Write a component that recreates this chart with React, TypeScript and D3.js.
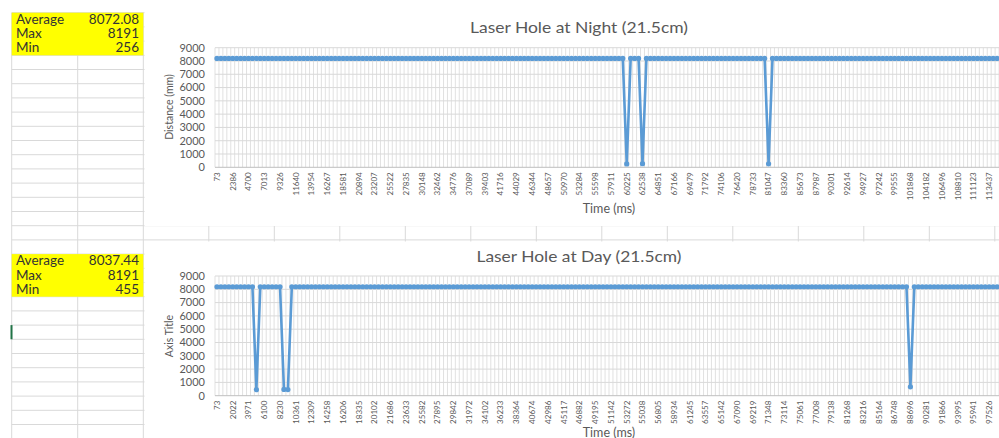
import React from "react";
import * as d3 from "d3";

// ---------- DATA ----------
const nightValues: number[] = [
  8191, 8191, 8191, 8191, 8191, 8191, 8191, 8191, 8191, 8191, 8191, 8191, 8191, 8191, 8191, 8191, 8191, 8191, 8191, 8191,
  8191, 8191, 8191, 8191, 8191, 8191, 8191, 8191, 8191, 8191, 8191, 8191, 8191, 8191, 8191, 8191, 8191, 8191, 8191, 8191,
  8191, 8191, 8191, 8191, 8191, 8191, 8191, 8191, 8191, 8191, 8191, 8191, 8191, 8191, 8191, 8191, 8191, 8191, 8191, 8191,
  8191, 8191, 8191, 8191, 8191, 8191, 8191, 8191, 8191, 8191, 8191, 8191, 8191, 8191, 8191, 8191, 8191, 8191, 8191, 8191,
  8191, 8191, 8191, 8191, 8191, 8191, 8191, 8191, 8191, 8191, 8191, 8191, 8191, 8191, 8191, 8191, 8191, 8191, 8191, 8191,
  8191, 8191, 8191, 8191, 256, 8191, 8191, 8191, 270, 8191, 8191, 8191, 8191, 8191, 8191, 8191, 8191, 8191, 8191, 8191,
  8191, 8191, 8191, 8191, 8191, 8191, 8191, 8191, 8191, 8191, 8191, 8191, 8191, 8191, 8191, 8191, 8191, 8191, 8191, 8191,
  263, 8191, 8191, 8191, 8191, 8191, 8191, 8191, 8191, 8191, 8191, 8191, 8191, 8191, 8191, 8191, 8191, 8191, 8191, 8191,
  8191, 8191, 8191, 8191, 8191, 8191, 8191, 8191, 8191, 8191, 8191, 8191, 8191, 8191, 8191, 8191, 8191, 8191, 8191, 8191,
  8191, 8191, 8191, 8191, 8191, 8191, 8191, 8191, 8191, 8191, 8191, 8191, 8191, 8191, 8191, 8191, 8191, 8191, 8191, 8191,
];

const dayValues: number[] = [
  8191, 8191, 8191, 8191, 8191, 8191, 8191, 8191, 8191, 8191, 455, 8191, 8191, 8191, 8191, 8191, 8191, 470, 460, 8191,
  8191, 8191, 8191, 8191, 8191, 8191, 8191, 8191, 8191, 8191, 8191, 8191, 8191, 8191, 8191, 8191, 8191, 8191, 8191, 8191,
  8191, 8191, 8191, 8191, 8191, 8191, 8191, 8191, 8191, 8191, 8191, 8191, 8191, 8191, 8191, 8191, 8191, 8191, 8191, 8191,
  8191, 8191, 8191, 8191, 8191, 8191, 8191, 8191, 8191, 8191, 8191, 8191, 8191, 8191, 8191, 8191, 8191, 8191, 8191, 8191,
  8191, 8191, 8191, 8191, 8191, 8191, 8191, 8191, 8191, 8191, 8191, 8191, 8191, 8191, 8191, 8191, 8191, 8191, 8191, 8191,
  8191, 8191, 8191, 8191, 8191, 8191, 8191, 8191, 8191, 8191, 8191, 8191, 8191, 8191, 8191, 8191, 8191, 8191, 8191, 8191,
  8191, 8191, 8191, 8191, 8191, 8191, 8191, 8191, 8191, 8191, 8191, 8191, 8191, 8191, 8191, 8191, 8191, 8191, 8191, 8191,
  8191, 8191, 8191, 8191, 8191, 8191, 8191, 8191, 8191, 8191, 8191, 8191, 8191, 8191, 8191, 8191, 8191, 8191, 8191, 8191,
  8191, 8191, 8191, 8191, 8191, 8191, 8191, 8191, 8191, 8191, 8191, 8191, 8191, 8191, 8191, 8191, 667, 8191, 8191, 8191,
  8191, 8191, 8191, 8191, 8191, 8191, 8191, 8191, 8191, 8191, 8191, 8191, 8191, 8191, 8191, 8191, 8191, 8191, 8191, 8191,
];

const nightTickLabels: string[] = [
  "73", "2386", "4700", "7013", "9326", "11640", "13954", "16267", "18581", "20894",
  "23207", "25522", "27835", "30148", "32462", "34776", "37089", "39403", "41716", "44029",
  "46344", "48657", "50970", "53284", "55598", "57911", "60225", "62538", "64851", "67166",
  "69479", "71792", "74106", "76420", "78733", "81047", "83360", "85673", "87987", "90301",
  "92614", "94927", "97242", "99555", "101868", "104182", "106496", "108810", "111123", "113437",
];

const dayTickLabels: string[] = [
  "73", "2022", "3971", "6100", "8230", "10361", "12309", "14258", "16206", "18335",
  "20102", "21686", "23633", "25582", "27895", "29842", "31972", "34102", "36233", "38364",
  "40674", "42986", "45117", "46882", "49195", "51142", "53272", "55038", "56805", "58934",
  "61245", "63557", "65142", "67090", "69219", "71348", "73114", "75061", "77008", "79138",
  "81268", "83216", "85164", "86748", "88696", "90281", "91866", "93995", "95941", "97526",
];

const yTicks: number[] = [0, 1000, 2000, 3000, 4000, 5000, 6000, 7000, 8000, 9000];

const statLabels: string[] = ["Average", "Max", "Min"];
const nightStats: string[] = ["8072.08", "8191", "256"];
const dayStats: string[] = ["8037.44", "8191", "455"];

// ---------- STYLE ----------
const W = 999;
const H = 438;
const FONT = "Lato, 'Open Sans', sans-serif";
const TXT = "#595959";
const BLUE = "#5B9BD5";
const CELL = "#D9D9D9";
const ROW_H = 14.2;
const ROW0 = 12.7;
const COLS = [11.7, 77.7];
const COL_START = 143.3;
const COL_W = 65.5;

type ChartProps = {
  title: string;
  titleW: number;
  yTitle: string;
  values: number[];
  labels: string[];
  top: number;
  bottom: number;
  titleY: number;
  xTitleY: number;
  yTitleY: number;
};

function Chart({ title, titleW, yTitle, values, labels, top, bottom, titleY, xTitleY, yTitleY }: ChartProps) {
  const left = 215;
  const right = 1003;
  const idx = values.map((_, i) => i);
  const x = d3.scaleBand<number>().domain(idx).range([left, right]).padding(0);
  const bw = x.bandwidth();
  const y = d3.scaleLinear().domain([0, 9000]).range([bottom, top]);
  const cx = (i: number) => (x(i) as number) + bw / 2;
  const line = d3
    .line<number>()
    .x((_, i) => cx(i))
    .y((d) => y(d));
  const boundaries = idx.map((i) => x(i) as number).concat([right]);
  return (
    <g>
      <text
        x={579}
        y={titleY}
        textAnchor="middle"
        fontFamily={FONT}
        fontSize={16}
        fill={TXT}
        textLength={titleW}
        lengthAdjust="spacingAndGlyphs"
      >
        {title}
      </text>
      {boundaries.map((b, i) => (
        <line key={"v" + i} x1={b} x2={b} y1={top} y2={bottom} stroke="#DEDEDE" strokeWidth={0.9} />
      ))}
      {yTicks.map((t) => (
        <line key={"h" + t} x1={left} x2={right} y1={y(t)} y2={y(t)} stroke={t === 0 ? "#BFBFBF" : CELL} strokeWidth={1} />
      ))}
      {yTicks.map((t) => (
        <text key={"yl" + t} x={205} y={y(t)} dy="0.35em" textAnchor="end" fontFamily={FONT} fontSize={11} fill={TXT}>
          {t}
        </text>
      ))}
      {labels.map((l, k) => {
        const i = k * 4;
        return (
          <text
            key={"xl" + k}
            transform={`translate(${cx(i)},${bottom + 5}) rotate(-90)`}
            textAnchor="end"
            dy="0.35em"
            fontFamily={FONT}
            fontSize={8}
            fill={TXT}
          >
            {l}
          </text>
        );
      })}
      <text x={609} y={xTitleY} textAnchor="middle" fontFamily={FONT} fontSize={12.5} fill={TXT}>
        Time (ms)
      </text>
      <text
        transform={`translate(169,${yTitleY}) rotate(-90)`}
        textAnchor="middle"
        dy="0.35em"
        fontFamily={FONT}
        fontSize={10.5}
        fill={TXT}
      >
        {yTitle}
      </text>
      <path d={line(values) || ""} fill="none" stroke={BLUE} strokeWidth={2.6} strokeLinejoin="round" />
      {values.map((v, i) => (
        <circle key={"c" + i} cx={cx(i)} cy={y(v)} r={2.6} fill={BLUE} />
      ))}
    </g>
  );
}

function StatBox({ rowStart, values }: { rowStart: number; values: string[] }) {
  const y0 = ROW0 + rowStart * ROW_H;
  return (
    <g>
      <rect x={COLS[0]} y={y0} width={COL_START - COLS[0]} height={ROW_H * 3} fill="#FFFF00" />
      {statLabels.map((s, k) => (
        <g key={s}>
          <text x={16} y={y0 + ROW_H * (k + 1) - 3} fontFamily={FONT} fontSize={13.5} fill="#333">
            {s}
          </text>
          <text x={139} y={y0 + ROW_H * (k + 1) - 3} textAnchor="end" fontFamily={FONT} fontSize={13.5} fill="#333">
            {values[k]}
          </text>
        </g>
      ))}
    </g>
  );
}

export default function App() {
  const rows = d3.range(0, 31).map((k) => ROW0 + k * ROW_H);
  const colLines = COLS.concat(d3.range(0, 14).map((k) => COL_START + k * COL_W));
  return (
    <svg
      width={W}
      height={H}
      style={{ position: "absolute", left: 0, top: 0, background: "#fff" }}
    >
      <rect x={0} y={0} width={W} height={H} fill="#fff" />
      {rows.map((r, k) => (
        <line key={"r" + k} x1={COLS[0]} x2={W} y1={r} y2={r} stroke={CELL} strokeWidth={1} />
      ))}
      {colLines.map((c, k) => (
        <line key={"cl" + k} x1={c} x2={c} y1={ROW0} y2={H} stroke={CELL} strokeWidth={1} />
      ))}
      <rect x={10.5} y={ROW0 + 22 * ROW_H} width={2} height={ROW_H} fill="#217346" />
      <StatBox rowStart={0} values={nightStats} />
      <StatBox rowStart={17} values={dayStats} />
      <rect x={144.5} y={0} width={W - 144.5} height={226} fill="#fff" />
      <rect x={144.5} y={241.5} width={W - 144.5} height={H - 241.5} fill="#fff" />
      <Chart
        title="Laser Hole at Night (21.5cm)"
        titleW={218}
        yTitle="Distance (mm)"
        values={nightValues}
        labels={nightTickLabels}
        top={47.7}
        bottom={167.3}
        titleY={33}
        xTitleY={213}
        yTitleY={107}
      />
      <Chart
        title="Laser Hole at Day (21.5cm)"
        titleW={205}
        yTitle="Axis Title"
        values={dayValues}
        labels={dayTickLabels}
        top={276}
        bottom={395.7}
        titleY={262}
        xTitleY={436.5}
        yTitleY={336}
      />
    </svg>
  );
}
